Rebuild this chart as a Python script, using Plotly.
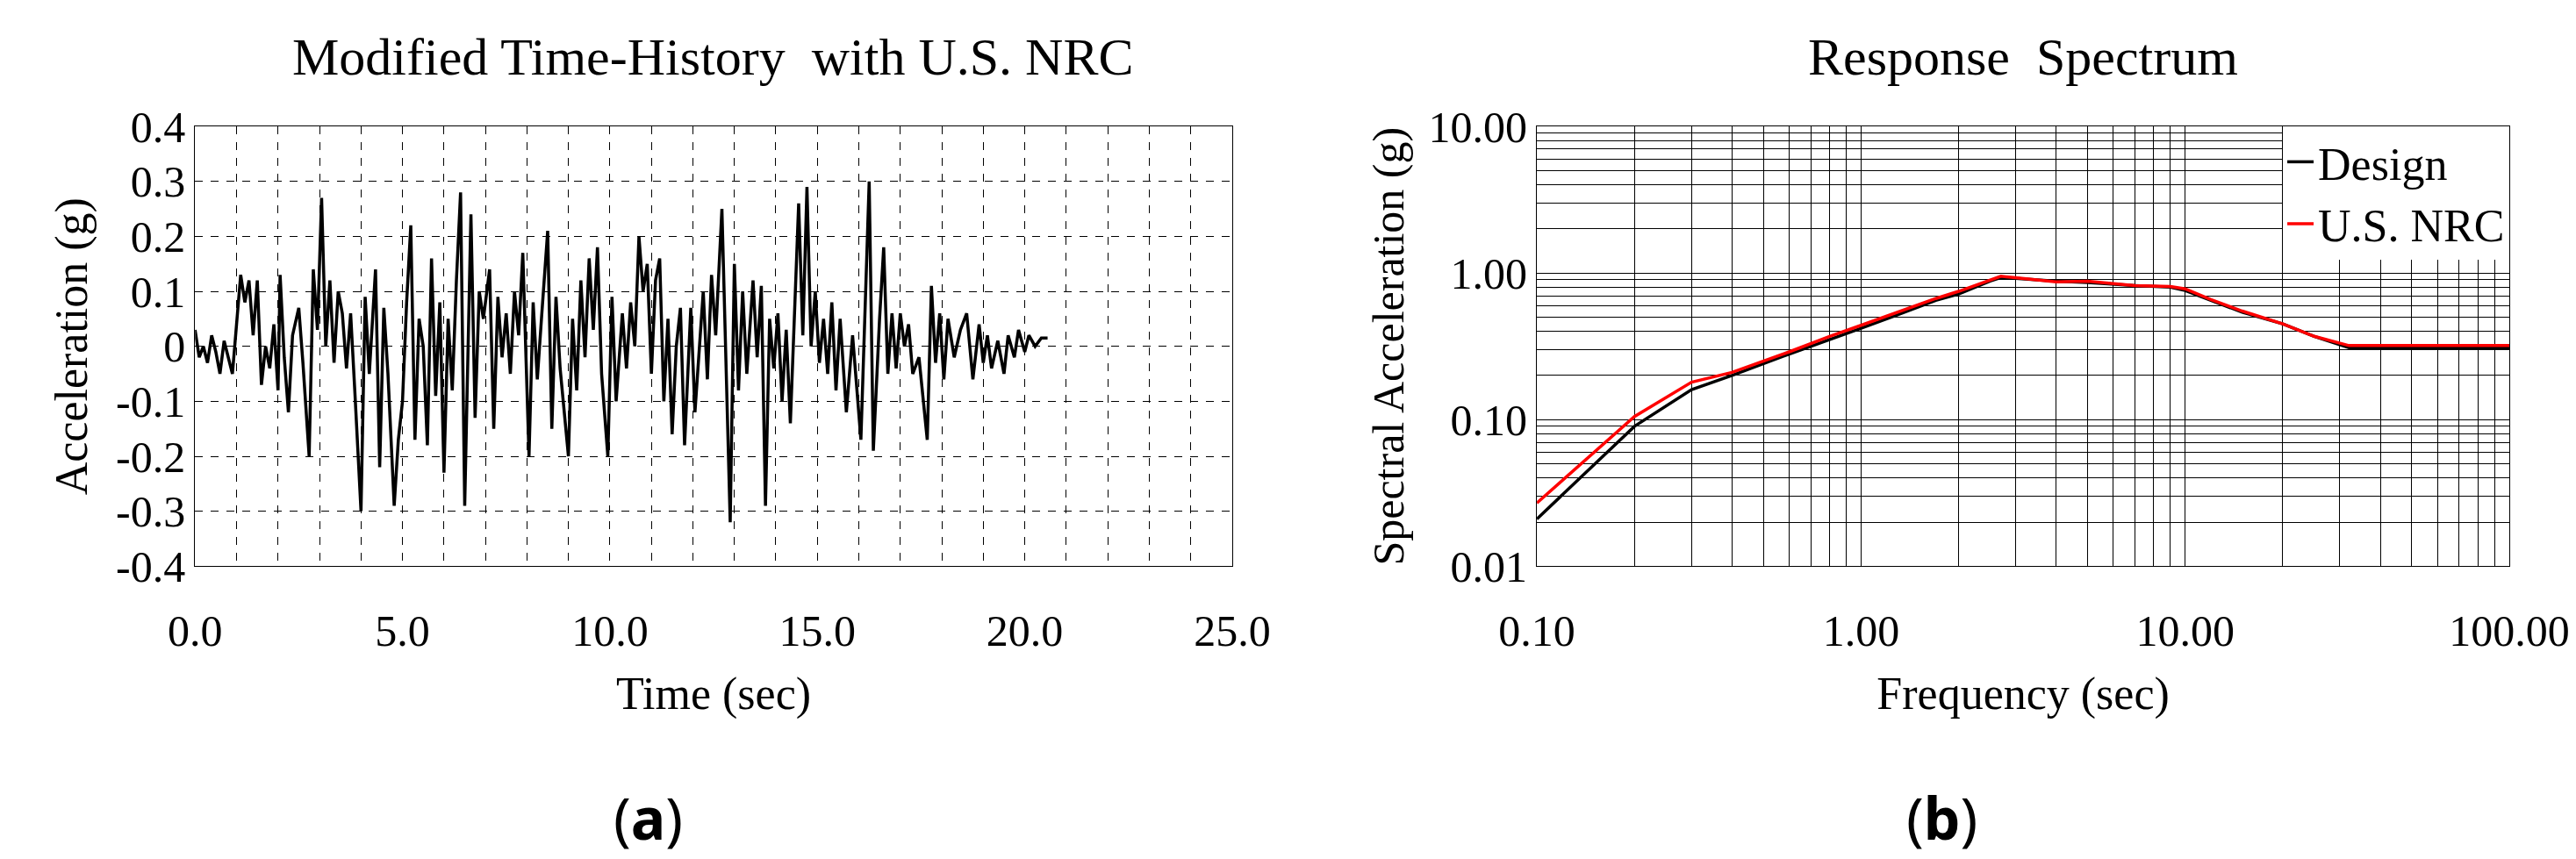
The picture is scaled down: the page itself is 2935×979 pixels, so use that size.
import plotly.graph_objects as go
from plotly.subplots import make_subplots

# time history
t_sec = [0.0, 0.1, 0.2, 0.3, 0.4, 0.5, 0.6, 0.7, 0.8, 0.9, 1.0, 1.1, 1.2, 1.3, 1.4, 1.5, 1.6, 1.7,
         1.8, 1.9, 2.0, 2.05, 2.15, 2.25, 2.35, 2.5, 2.6, 2.75, 2.85, 2.95, 3.05, 3.15, 3.25, 3.35,
         3.45, 3.55, 3.65, 3.75, 3.85, 4.0, 4.1, 4.2, 4.35, 4.45, 4.55, 4.65, 4.8, 4.9, 5.0, 5.1,
         5.2, 5.3, 5.4, 5.5, 5.6, 5.7, 5.8, 5.9, 6.0, 6.1, 6.2, 6.3, 6.4, 6.5, 6.65, 6.75, 6.85,
         6.95, 7.1, 7.2, 7.3, 7.4, 7.5, 7.6, 7.7, 7.8, 7.9, 8.05, 8.15, 8.25, 8.35, 8.5, 8.6, 8.7,
         8.8, 9.0, 9.1, 9.2, 9.3, 9.4, 9.5, 9.6, 9.7, 9.8, 9.95, 10.05, 10.15, 10.3, 10.4, 10.5,
         10.6, 10.7, 10.8, 10.9, 11.0, 11.1, 11.2, 11.3, 11.4, 11.5, 11.6, 11.7, 11.8, 11.95,
         12.05, 12.15, 12.25, 12.35, 12.45, 12.55, 12.7, 12.9, 13.0, 13.1, 13.2, 13.3, 13.45,
         13.55, 13.65, 13.75, 13.85, 13.95, 14.05, 14.15, 14.25, 14.35, 14.45, 14.55, 14.65,
         14.75, 14.85, 14.95, 15.05, 15.15, 15.25, 15.35, 15.45, 15.55, 15.7, 15.85, 16.05,
         16.25, 16.35, 16.5, 16.6, 16.7, 16.8, 16.9, 17.0, 17.1, 17.2, 17.3, 17.45, 17.65, 17.75,
         17.85, 17.95, 18.05, 18.15, 18.3, 18.45, 18.6, 18.75, 18.9, 19.0, 19.1, 19.2, 19.35,
         19.5, 19.6, 19.75, 19.85, 20.0, 20.1, 20.25, 20.4, 20.55]
acc_g = [0.03, -0.02, 0.0, -0.03, 0.02, -0.01, -0.05, 0.01, -0.02, -0.05, 0.04, 0.13, 0.08, 0.12, 0.02,
         0.12, -0.07, 0.0, -0.04, 0.04, -0.08, 0.13, -0.02, -0.12, 0.02, 0.07, -0.03, -0.2, 0.14,
         0.03, 0.27, 0.0, 0.12, -0.03, 0.1, 0.06, -0.04, 0.06, -0.08, -0.3, 0.09, -0.05, 0.14, -0.22,
         0.07, -0.05, -0.29, -0.17, -0.1, 0.08, 0.22, -0.17, 0.05, 0.0, -0.18, 0.16, -0.09, 0.08,
         -0.23, 0.05, -0.08, 0.12, 0.28, -0.29, 0.24, -0.13, 0.1, 0.05, 0.14, -0.15, 0.09, -0.02,
         0.06, -0.05, 0.1, 0.02, 0.17, -0.2, 0.08, -0.06, 0.05, 0.21, -0.15, 0.09, -0.04, -0.2,
         0.05, -0.08, 0.12, -0.02, 0.16, 0.03, 0.18, -0.05, -0.2, 0.09, -0.1, 0.06, -0.04, 0.08,
         0.0, 0.2, 0.1, 0.15, -0.05, 0.12, 0.16, -0.1, 0.05, -0.16, 0.0, 0.07, -0.18, 0.07, -0.12,
         -0.0, 0.1, -0.06, 0.13, 0.02, 0.25, -0.32, 0.15, -0.08, 0.1, -0.05, 0.12, -0.02, 0.11,
         -0.29, 0.05, -0.04, 0.06, -0.1, 0.03, -0.14, 0.05, 0.26, 0.02, 0.29, 0.0, 0.1, -0.03,
         0.05, -0.05, 0.08, -0.08, 0.05, -0.12, 0.02, -0.17, 0.3, -0.19, 0.05, 0.18, -0.05, 0.06,
         -0.04, 0.06, 0.0, 0.04, -0.05, -0.02, -0.17, 0.11, -0.03, 0.06, -0.06, 0.05, -0.02, 0.03,
         0.06, -0.06, 0.04, -0.03, 0.02, -0.04, 0.01, -0.05, 0.02, -0.02, 0.03, -0.01, 0.02, 0.0,
         0.015, 0.015]

# response spectrum
freq = [0.1, 0.2, 0.3, 0.4, 0.6, 0.8, 1.0, 1.3, 1.7, 2.0, 2.5, 2.7, 3.0, 4.0, 5.0, 7.0, 9.0, 10.0,
        12.0, 15.0, 20.0, 25.0, 32.0, 40.0, 60.0, 100.0]
sa_design = [0.021, 0.09, 0.16, 0.2, 0.28, 0.35, 0.42, 0.52, 0.65, 0.72, 0.88, 0.93, 0.92, 0.88, 0.86,
             0.82, 0.8, 0.76, 0.65, 0.54, 0.45, 0.37, 0.31, 0.31, 0.31, 0.31]
sa_nrc = [0.027, 0.105, 0.18, 0.21, 0.29, 0.37, 0.44, 0.54, 0.67, 0.75, 0.9, 0.95, 0.93, 0.87, 0.88,
          0.82, 0.81, 0.78, 0.66, 0.55, 0.45, 0.37, 0.32, 0.32, 0.32, 0.32]

FONT = "Liberation Serif"
H = 979

fig = make_subplots(rows=1, cols=2)
fig.add_trace(go.Scatter(x=t_sec, y=acc_g, mode="lines", line=dict(color="black", width=3.5),
                         showlegend=False), row=1, col=1)
fig.add_trace(go.Scatter(x=freq, y=sa_design, mode="lines", name="Design",
                         line=dict(color="black", width=3.5)), row=1, col=2)
fig.add_trace(go.Scatter(x=freq, y=sa_nrc, mode="lines", name="U.S. NRC",
                         line=dict(color="red", width=3.5)), row=1, col=2)

fig.update_xaxes(domain=[0.073, 0.4756], range=[0, 25], tickvals=[0, 5, 10, 15, 20, 25],
                 ticktext=["0.0", "5.0", "10.0", "15.0", "20.0", "25.0"], ticks="", ticklabelstandoff=30,
                 showgrid=True, gridcolor="black", griddash="dash", gridwidth=1,
                 minor=dict(dtick=1, showgrid=True, gridcolor="black", griddash="dash"),
                 showline=True, linecolor="black", mirror=True, zeroline=False, automargin=False,
                 title=dict(text="Time (sec)", font=dict(size=52), standoff=25), row=1, col=1)
fig.update_yaxes(domain=[0.349, 0.861], range=[-0.4, 0.4], ticks="",
                 tickvals=[-0.4, -0.3, -0.2, -0.1, 0, 0.1, 0.2, 0.3, 0.4],
                 ticktext=["-0.4", "-0.3", "-0.2", "-0.1", "0", "0.1", "0.2", "0.3", "0.4"],
                 showgrid=True, gridcolor="black", griddash="dash", gridwidth=1,
                 showline=True, linecolor="black", mirror=True, zeroline=False, automargin=False,
                 title=dict(text="Acceleration (g)", font=dict(size=52), standoff=15), row=1, col=1)

fig.update_xaxes(domain=[0.5939, 0.9714], type="log", range=[-1, 2], tickvals=[0.1, 1, 10, 100],
                 ticktext=["0.10", "1.00", "10.00", "100.00"], ticks="", ticklabelstandoff=30,
                 showgrid=True, gridcolor="black", gridwidth=1,
                 minor=dict(dtick="D1", showgrid=True, gridcolor="black", gridwidth=1),
                 showline=True, linecolor="black", mirror=True, automargin=False,
                 title=dict(text="Frequency (sec)", font=dict(size=52), standoff=25), row=1, col=2)
fig.update_yaxes(domain=[0.349, 0.861], type="log", range=[-2, 1], tickvals=[0.01, 0.1, 1, 10],
                 ticktext=["0.01", "0.10", "1.00", "10.00"], ticks="",
                 showgrid=True, gridcolor="black", gridwidth=1,
                 minor=dict(dtick="D1", showgrid=True, gridcolor="black", gridwidth=1),
                 showline=True, linecolor="black", mirror=True, automargin=False,
                 title=dict(text="Spectral Acceleration (g)", font=dict(size=50), standoff=12), row=1, col=2)

fig.update_layout(
    width=2935, height=H, margin=dict(l=0, r=0, t=0, b=0),
    paper_bgcolor="white", plot_bgcolor="white",
    font=dict(family=FONT, size=50, color="black"),
    legend=dict(x=0.9714, y=0.861, xanchor="right", yanchor="top", bgcolor="white",
                font=dict(size=52), tracegroupgap=0),
    annotations=[
        dict(text="Modified Time-History  with U.S. NRC", x=0.274, y=1 - 57 / H,
             font=dict(size=60)),
        dict(text="Response  Spectrum", x=0.7826, y=1 - 57 / H, font=dict(size=60)),
        dict(text="(<b>a</b>)", x=0.249, y=1 - 923 / H,
             font=dict(family="Noto Sans", size=66)),
        dict(text="(<b>b</b>)", x=0.751, y=1 - 923 / H,
             font=dict(family="Noto Sans", size=66)),
    ],
)
fig.update_annotations(xref="paper", yref="paper", xanchor="center", yanchor="middle",
                       showarrow=False)

fig.write_html("out.html")
